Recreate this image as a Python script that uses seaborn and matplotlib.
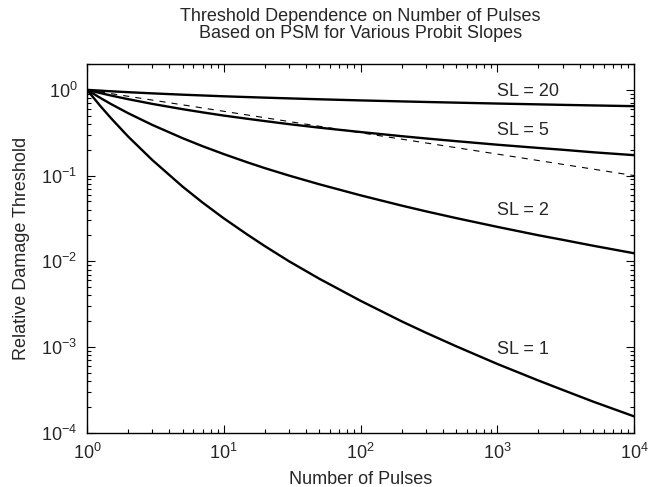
import matplotlib
matplotlib.use("Agg")
import matplotlib.pyplot as plt
import seaborn as sns
import pandas as pd
import numpy as np

# values
pulses = [1, 1.25, 1.5, 2, 3, 5, 7, 10, 15, 20, 30, 50, 100, 200, 300, 500,
          1000, 2000, 3000, 5000, 10000]
sl1 = [1, 0.650, 0.466, 0.285, 0.152, 0.0743, 0.0484, 0.0317, 0.0203, 0.0150,
       0.0100, 0.00625, 0.00346, 0.00199, 0.00147, 0.00102, 0.000634,
       0.000406, 0.000316, 0.000231, 0.000155]
sl2 = [1, 0.806, 0.682, 0.534, 0.390, 0.273, 0.220, 0.178, 0.142, 0.122,
       0.100, 0.0791, 0.0588, 0.0446, 0.0383, 0.0319, 0.0252, 0.0201,
       0.0178, 0.0152, 0.0124]
sl5 = [1, 0.918, 0.858, 0.778, 0.686, 0.595, 0.546, 0.501, 0.459, 0.432,
       0.398, 0.362, 0.322, 0.288, 0.271, 0.252, 0.229, 0.210, 0.200,
       0.187, 0.173]
sl20 = [1, 0.979, 0.962, 0.939, 0.910, 0.878, 0.860, 0.841, 0.823, 0.811,
        0.795, 0.776, 0.753, 0.733, 0.722, 0.709, 0.692, 0.677, 0.668,
        0.658, 0.645]
ref_pulses = [1, 10, 100, 1000, 10000]
ref_line = [1, 0.562, 0.316, 0.178, 0.1]

labels = ["SL = 20", "SL = 5", "SL = 2", "SL = 1"]
label_x = [1000, 1000, 1000, 1000]
label_y = [0.95, 0.34, 0.039, 0.00094]

sns.set_style("ticks")
plt.rcParams['font.family'] = ['Liberation Sans', 'DejaVu Sans']
plt.rcParams['mathtext.default'] = 'regular'

fig = plt.figure(figsize=(6.56, 4.87), dpi=100)
ax = fig.add_axes([0.1326, 0.1115, 0.834, 0.757])

for vals in [sl20, sl5, sl2, sl1]:
    sns.lineplot(x=pulses, y=vals, color='black', linewidth=1.7, ax=ax)
sns.lineplot(x=ref_pulses, y=ref_line, color='black', linewidth=0.8,
             linestyle=(0, (5.5, 5.5)), ax=ax)

ax.set_xscale('log')
ax.set_yscale('log')
ax.set_xlim(1, 1e4)
ax.set_ylim(1e-4, 2)

for t, x, y in zip(labels, label_x, label_y):
    ax.text(x, y, t, fontsize=13, ha='left', va='center')

ax.set_xlabel("Number of Pulses", fontsize=13, labelpad=6)
ax.set_ylabel("Relative Damage Threshold", fontsize=13, labelpad=8)
ax.set_title("Threshold Dependence on Number of Pulses\n"
             "Based on PSM for Various Probit Slopes", fontsize=13,
             linespacing=1.0, pad=19)

ax.tick_params(which='both', direction='in', top=True, right=True,
               labelsize=13, width=0.8, color='black')
ax.tick_params(which='major', length=6, pad=7)
ax.tick_params(which='minor', length=3)
for s in ax.spines.values():
    s.set_linewidth(1.0)
    s.set_color('black')

fig.savefig("out.png", dpi=100)
